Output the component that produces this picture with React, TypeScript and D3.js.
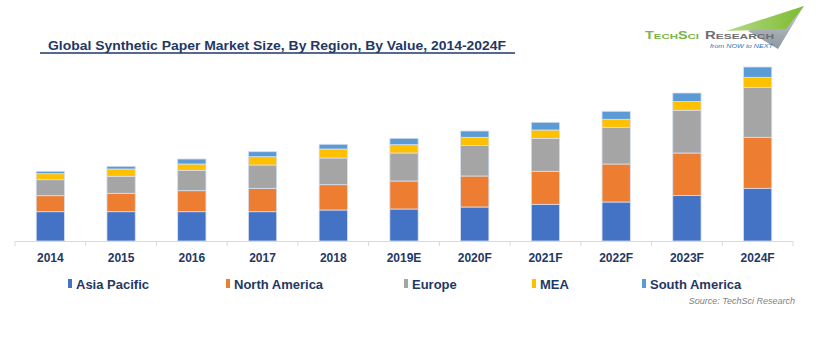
import * as d3 from 'd3';
import React from 'react';

// values (arbitrary units, stacked)
const years = ['2014', '2015', '2016', '2017', '2018', '2019E', '2020F', '2021F', '2022F', '2023F', '2024F'];
const asiaPacific = [29.3, 29.3, 29.3, 29.3, 31, 32, 34, 36.7, 39, 45.4, 52.7];
const northAmerica = [16, 18.4, 21, 23.4, 25.3, 28, 31, 33, 38, 42.6, 51];
const europe = [16, 17, 20.4, 23.3, 26.7, 28, 30.4, 33, 36.7, 42.7, 50];
const mea = [6, 7.3, 6.3, 8.3, 9, 8.3, 8.3, 8.3, 8, 8.7, 10];
const southAmerica = [2.4, 2.7, 5, 5, 4.7, 6.4, 6.3, 7.7, 8, 8.6, 10.3];

const seriesNames = ['Asia Pacific', 'North America', 'Europe', 'MEA', 'South America'];
const seriesColors = ['#4472C4', '#ED7D31', '#A5A5A5', '#FFC000', '#5B9BD5'];
const legendX = [68, 226, 404, 532, 642];

const navy = '#1F3864';

const App = () => {
    const width = 820;
    const height = 350;
    const baseline = 241;

    const rows = years.map((year, i) => ({
        year,
        ap: asiaPacific[i],
        na: northAmerica[i],
        eu: europe[i],
        mea: mea[i],
        sa: southAmerica[i],
    }));
    const keys = ['ap', 'na', 'eu', 'mea', 'sa'];
    const stacked = d3.stack().keys(keys)(rows as any);

    const x = d3.scaleBand()
        .domain(years)
        .range([15, 793])
        .paddingInner(0.6)
        .paddingOuter(0.3);

    const y = d3.scaleLinear()
        .domain([0, 180])
        .range([baseline, baseline - 180]);

    const step = x.step();
    const tickXs = d3.range(years.length + 1).map(i => 15 + i * step);

    return (
        <svg width={width} height={height}
            style={{ position: 'absolute', left: 0, top: 0, background: '#fff' }}
            fontFamily="'Liberation Sans', Arial, sans-serif">

            {/* title */}
            <text x={48} y={50} fontSize={13} fontWeight="bold" fill={navy}
                textLength={458} lengthAdjust="spacingAndGlyphs">
                Global Synthetic Paper Market Size, By Region, By Value, 2014-2024F
            </text>
            <line x1={40} x2={515} y1={53} y2={53} stroke={navy} strokeWidth={1.5} />

            {/* logo */}
            <defs>
                <linearGradient id="logoGrad" x1="0" y1="0" x2="1" y2="0">
                    <stop offset="0%" stopColor="#B5D98A" />
                    <stop offset="100%" stopColor="#7DBB2E" />
                </linearGradient>
                <linearGradient id="logoGrey" x1="0" y1="0" x2="0" y2="1">
                    <stop offset="0%" stopColor="#C9CED3" />
                    <stop offset="100%" stopColor="#8E979F" />
                </linearGradient>
            </defs>
            <polygon points="748,31 804,6 778,49" fill="url(#logoGrey)" />
            <polygon points="726,31 804,6 786,29" fill="url(#logoGrad)" />
            <text x={645} y={39} fontWeight="bold" fill="#7AB648"
                textLength={54} lengthAdjust="spacingAndGlyphs">
                <tspan fontSize={10}>T</tspan><tspan fontSize={8}>ECH</tspan>
                <tspan fontSize={10}>S</tspan><tspan fontSize={8}>CI</tspan>
            </text>
            <text x={705} y={39} fontWeight="bold" fill="#6D6E71"
                textLength={69} lengthAdjust="spacingAndGlyphs">
                <tspan fontSize={10}>R</tspan><tspan fontSize={8}>ESEARCH</tspan>
            </text>
            <text x={710} y={48} fontSize={6} fontStyle="italic" fill="#2E75B6"
                textLength={63} lengthAdjust="spacingAndGlyphs">from NOW to NEXT</text>

            {/* bars */}
            {stacked.map((layer, li) => (
                <g key={li} fill={seriesColors[li]}>
                    {layer.map((d: any, i: number) => (
                        <rect key={i}
                            x={x(years[i])}
                            y={y(d[1])}
                            width={x.bandwidth()}
                            height={y(d[0]) - y(d[1])}
                            stroke="#D6E0F0"
                            strokeWidth={0.8} />
                    ))}
                </g>
            ))}

            {/* axis */}
            <line x1={15} x2={793} y1={baseline + 0.5} y2={baseline + 0.5} stroke="#D9D9D9" />
            {tickXs.map((tx, i) => (
                <line key={i} x1={tx} x2={tx} y1={baseline} y2={baseline + 5} stroke="#D9D9D9" />
            ))}
            {years.map(yr => (
                <text key={yr} x={(x(yr) as number) + x.bandwidth() / 2} y={262}
                    textAnchor="middle" fontSize={12} fontWeight="bold" fill={navy}>
                    {yr}
                </text>
            ))}

            {/* legend */}
            {seriesNames.map((name, i) => (
                <g key={name} transform={`translate(${legendX[i]},0)`}>
                    <rect x={0} y={279} width={4} height={9} fill={seriesColors[i]} />
                    <text x={8} y={289} fontSize={13} fontWeight="bold" fill={navy}>{name}</text>
                </g>
            ))}

            {/* source */}
            <text x={795} y={304} textAnchor="end" fontSize={9} fontStyle="italic" fill="#7F7F7F">
                Source: TechSci Research
            </text>
        </svg>
    );
};

export default App;
